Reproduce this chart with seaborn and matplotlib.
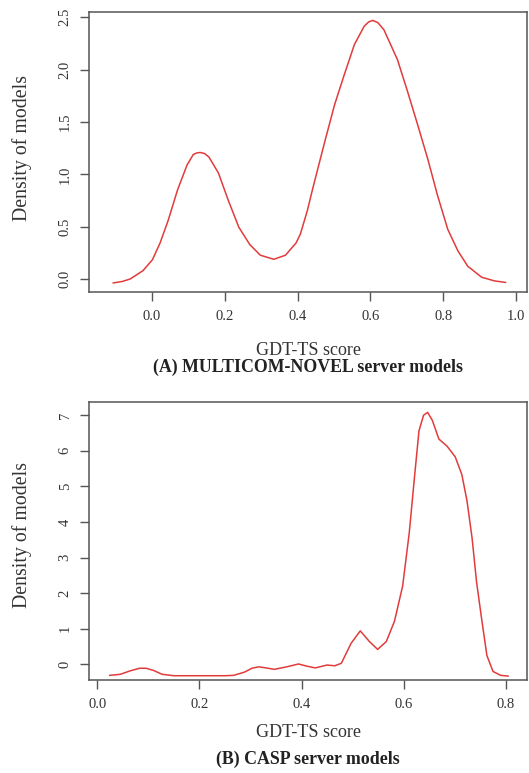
import matplotlib
matplotlib.use("Agg")
import matplotlib.pyplot as plt
import seaborn as sns
import pandas as pd

sns.set_theme(style="white")
plt.rcParams['font.family'] = ['Liberation Serif', 'DejaVu Serif']

# Panel A: MULTICOM-NOVEL server models (density curve)
a_score = [-0.106, -0.08, -0.059, -0.024, 0.002, 0.023, 0.045, 0.071, 0.097, 0.114,
           0.123, 0.133, 0.145, 0.157, 0.183, 0.210, 0.239, 0.269, 0.298, 0.335,
           0.367, 0.396, 0.408, 0.427, 0.442, 0.476, 0.502, 0.529, 0.556, 0.583,
           0.595, 0.606, 0.62, 0.637, 0.674, 0.701, 0.729, 0.757, 0.784, 0.812,
           0.84, 0.867, 0.905, 0.94, 0.971]
a_density = [-0.035, -0.02, 0.003, 0.082, 0.186, 0.346, 0.559, 0.853, 1.09, 1.19,
             1.205, 1.21, 1.20, 1.167, 1.015, 0.755, 0.497, 0.332, 0.23, 0.191,
             0.23, 0.347, 0.433, 0.657, 0.87, 1.33, 1.67, 1.96, 2.24, 2.415,
             2.455, 2.47, 2.45, 2.38, 2.096, 1.80, 1.48, 1.15, 0.80, 0.477,
             0.27, 0.124, 0.02, -0.015, -0.03]

# Panel B: CASP server models
b_score = [0.024, 0.045, 0.065, 0.083, 0.0955, 0.11, 0.127, 0.15, 0.2, 0.25, 0.267,
           0.288, 0.303, 0.316, 0.33, 0.347, 0.371, 0.394, 0.41, 0.427, 0.45, 0.465,
           0.478, 0.497, 0.515, 0.533, 0.549, 0.566, 0.582, 0.598, 0.611, 0.621,
           0.630, 0.639, 0.647, 0.656, 0.669, 0.685, 0.701, 0.714, 0.724, 0.734,
           0.743, 0.753, 0.763, 0.775, 0.79, 0.805]
b_density = [-0.31, -0.28, -0.18, -0.11, -0.11, -0.17, -0.28, -0.32, -0.32, -0.32, -0.31,
             -0.22, -0.11, -0.07, -0.1, -0.14, -0.07, 0.01, -0.05, -0.1, -0.02, -0.04,
             0.03, 0.59, 0.94, 0.64, 0.42, 0.64, 1.21, 2.2, 3.7, 5.23,
             6.56, 7.0, 7.08, 6.86, 6.33, 6.13, 5.83, 5.33, 4.6, 3.55,
             2.29, 1.25, 0.25, -0.2, -0.31, -0.33]

a_xticks = [0.0, 0.2, 0.4, 0.6, 0.8, 1.0]
a_yticks = [0.0, 0.5, 1.0, 1.5, 2.0, 2.5]
b_xticks = [0.0, 0.2, 0.4, 0.6, 0.8]
b_yticks = [0, 1, 2, 3, 4, 5, 6, 7]

W, H = 529, 773
fig = plt.figure(figsize=(W / 100, H / 100), dpi=100)

def make_ax(left, top, right, bottom):
    return fig.add_axes([left / W, 1 - bottom / H, (right - left) / W, (bottom - top) / H])

ax1 = make_ax(89.3, 11.7, 526.7, 292)
ax2 = make_ax(89.3, 401.7, 526.7, 680)

red = '#e23b3b'
dfa = pd.DataFrame({'score': a_score, 'density': a_density})
dfb = pd.DataFrame({'score': b_score, 'density': b_density})
sns.lineplot(data=dfa, x='score', y='density', ax=ax1, color=red, lw=1.1, sort=False)
sns.lineplot(data=dfb, x='score', y='density', ax=ax2, color=red, lw=1.1, sort=False)

panels = [
    (ax1, a_xticks, a_yticks, ['0.0', '0.2', '0.4', '0.6', '0.8', '1.0'],
     ['0.0', '0.5', '1.0', '1.5', '2.0', '2.5'], (-0.171, 1.0285), (-0.121, 2.553),
     '(A) MULTICOM-NOVEL server models', 350, 367, 148),
    (ax2, b_xticks, b_yticks, ['0.0', '0.2', '0.4', '0.6', '0.8'],
     [str(v) for v in b_yticks], (-0.0157, 0.841), (-0.44, 7.38),
     '(B) CASP server models', 732.5, 759, 535),
]

cx = (89.3 + 526.7) / 2 / W
for ax, xt, yt, xl, yl, xlim, ylim, title, xlab_y, title_y, ylab_y in panels:
    ax.set_xlim(*xlim)
    ax.set_ylim(*ylim)
    ax.set_xticks(xt)
    ax.set_xticklabels(xl, fontsize=10.5, color='#333333')
    ax.set_yticks(yt)
    ax.set_yticklabels(yl, fontsize=10.5, color='#333333', rotation=90, va='center')
    for s in ax.spines.values():
        s.set_visible(True)
        s.set_color('#555555')
        s.set_linewidth(1.1)
    ax.tick_params(axis='both', which='both', direction='out', length=6.7, width=1.0,
                   color='#555555', bottom=True, left=True, pad=6)
    ax.set_xlabel('')
    ax.set_ylabel('')
    ax.grid(False)
    fig.text(cx, 1 - xlab_y / H, 'GDT-TS score', fontsize=13, color='#333333',
             ha='center', va='center')
    fig.text(cx, 1 - title_y / H, title, fontsize=12.9, fontweight='bold',
             color='#222222', ha='center', va='center')
    fig.text(22 / W, 1 - ylab_y / H, 'Density of models', fontsize=14.3,
             color='#333333', ha='center', va='center', rotation=90)

fig.savefig('out.png', dpi=100, facecolor='white')
